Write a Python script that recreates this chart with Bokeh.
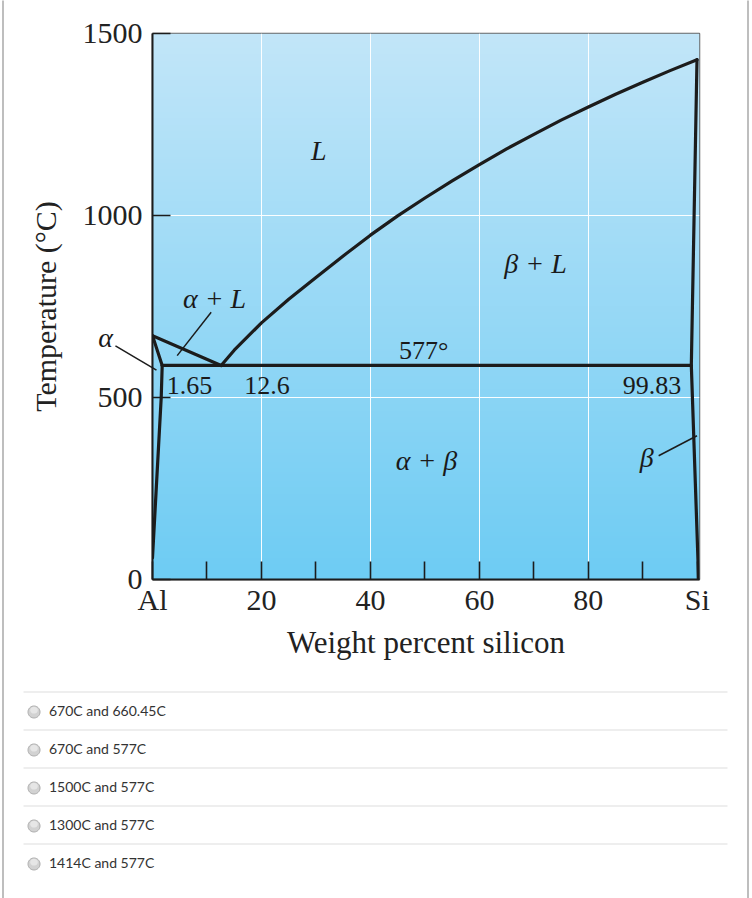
import numpy as np
from bokeh.plotting import figure
from bokeh.models import Range1d, FixedTicker
from bokeh.embed import file_html
from bokeh.resources import INLINE
from bokeh.core.properties import value

# ---------------- data (wt% Si, temperature in deg C) ----------------
liq_left_x = [0.0, 12.6]
liq_left_t = [670, 588]
sol_alpha_x = [0.0, 1.78]
sol_alpha_t = [670, 588]
solvus_alpha_x = [1.78, 1.6, 0.0]
solvus_alpha_t = [588, 500, 60]
liq_right_x = [12.6, 15, 20, 25, 30, 35, 40, 45, 50, 55, 60, 65, 70, 75, 80,
               85, 90, 95, 99.94]
liq_right_t = [588, 630, 705, 770, 830, 889, 946, 999, 1048, 1095, 1140, 1183,
               1223, 1262, 1298, 1333, 1366, 1398, 1428]
eutectic_x = [1.78, 98.9]
eutectic_t = [588, 588]
beta_x = [99.94, 98.9, 100.24]
beta_t = [1428, 588, 0]

x_ticks = [0, 10, 20, 30, 40, 50, 60, 70, 80, 90, 100]
x_tick_labels = {0: "Al", 10: "", 20: "20", 30: "", 40: "40", 50: "", 60: "60",
                 70: "", 80: "80", 90: "", 100: "Si"}
y_ticks = [0, 500, 1000, 1500]

italic_labels = ["L", "β + L", "α + L", "α + β", "β"]
italic_x = [30.5, 70.3, 11.4, 50.3, 90.7]
italic_t = [1179, 867, 771, 326, 335]

plain_labels = ["577°", "1.65", "12.6", "99.83"]
plain_x = [49.8, 6.79, 21.0, 91.7]
plain_t = [629, 532, 532, 532]

alpha_label = ["α"]
alpha_label_x = [-8.6]
alpha_label_t = [665]

leaders_x0 = [-6.8, 10.77, 92.9]
leaders_t0 = [642, 734, 340]
leaders_x1 = [0.73, 4.53, 99.94]
leaders_t1 = [575, 615, 395]

options = ["670C and 660.45C", "670C and 577C", "1500C and 577C",
           "1300C and 577C", "1414C and 577C"]

SERIF = "Liberation Serif"
INK = "#1c1c1c"

# ---------------- figure ----------------
p = figure(width=752, height=898, output_backend="svg", toolbar_location=None,
           x_range=Range1d(0, 100.4), y_range=Range1d(0, 1500),
           min_border_left=152, min_border_right=53, min_border_top=33,
           min_border_bottom=319)
p.background_fill_color = None
p.border_fill_color = "white"
p.outline_line_color = "#666666"
p.outline_line_width = 1.5

# page-pixel ranges for the decorations around the chart
p.extra_x_ranges = {"px": Range1d(152, 699)}
p.extra_y_ranges = {"py": Range1d(579, 33)}

# background vertical gradient (styling only)
N = 256
img = np.zeros((N, 1), dtype=np.uint32)
view = img.view(dtype=np.uint8).reshape((N, 1, 4))
top_c = np.array([194, 230, 249])
bot_c = np.array([110, 204, 243])
for i in range(N):
    f = i / (N - 1)
    view[i, 0, :3] = (bot_c + (top_c - bot_c) * f).astype(np.uint8)
    view[i, 0, 3] = 255
p.image_rgba(image=[img], x=0, y=0, dw=100.4, dh=1500, level="image")

p.xgrid.ticker = FixedTicker(ticks=[20, 40, 60, 80])
p.ygrid.ticker = FixedTicker(ticks=[500, 1000])
for g in (p.xgrid, p.ygrid):
    g.grid_line_color = "white"
    g.grid_line_width = 1
    g.grid_line_alpha = 0.95
    g.level = "underlay"

# axes
p.xaxis.ticker = FixedTicker(ticks=x_ticks)
p.xaxis.major_label_overrides = x_tick_labels
p.yaxis.ticker = FixedTicker(ticks=y_ticks)
for ax in (p.xaxis, p.yaxis):
    ax.major_tick_in = 18
    ax.major_tick_out = 0
    ax.minor_tick_in = 0
    ax.minor_tick_out = 0
    ax.major_tick_line_color = INK
    ax.major_tick_line_width = 1.6
    ax.axis_line_color = INK
    ax.axis_line_width = 2
    ax.major_label_text_font = SERIF
    ax.major_label_text_font_size = "30px"
    ax.major_label_text_color = "#222222"
    ax.axis_label_text_font = SERIF
    ax.axis_label_text_font_size = "30px"
    ax.axis_label_text_font_style = "normal"
    ax.axis_label_text_color = "#222222"
p.xaxis.axis_label = "Weight percent silicon"
p.xaxis.axis_label_text_font_size = "31px"
p.yaxis.axis_label = "Temperature (°C)"
p.xaxis.major_label_standoff = 3
p.yaxis.major_label_standoff = 10
p.xaxis.axis_label_standoff = 6
p.yaxis.axis_label_standoff = 18
p.yaxis.major_label_orientation = "horizontal"

# phase boundaries
for xs, ts in [(liq_left_x, liq_left_t), (sol_alpha_x, sol_alpha_t),
               (solvus_alpha_x, solvus_alpha_t), (liq_right_x, liq_right_t),
               (eutectic_x, eutectic_t), (beta_x, beta_t)]:
    p.line(xs, ts, line_color=INK, line_width=3.2, line_join="round", line_cap="round")

# leader lines (overlay level so that the alpha leader can leave the frame)
p.segment(x0=leaders_x0, y0=leaders_t0, x1=leaders_x1, y1=leaders_t1,
          line_color=INK, line_width=1.5, level="overlay")

# labels
p.text(x=italic_x, y=italic_t, text=italic_labels, text_font=value(SERIF),
       text_font_style="italic", text_font_size="28px", text_align="center",
       text_baseline="middle", text_color="#1a1a1a")
p.text(x=plain_x, y=plain_t, text=plain_labels, text_font=value(SERIF),
       text_font_size="26px", text_align="center", text_baseline="middle",
       text_color="#1a1a1a")
p.text(x=alpha_label_x, y=alpha_label_t, text=alpha_label, text_font=value(SERIF),
       text_font_style="italic", text_font_size="28px", text_align="center",
       text_baseline="middle", text_color="#1a1a1a", level="overlay")

# ---------------- answer options (page-pixel coordinates) ----------------
row_y = [710 + 38 * i for i in range(len(options))]
sep_y = [y - 18.5 for y in row_y]
p.segment(x0=23, x1=727, y0=sep_y, y1=sep_y, line_color="#dddddd", line_width=1.2,
          x_range_name="px", y_range_name="py", level="overlay")

# radio buttons drawn as round patches (NaN-separated)
ang = np.linspace(0, 2 * np.pi, 40)
cx, cy = [], []
hx, hy = [], []
for y in row_y:
    cx += list(33.5 + 6.0 * np.cos(ang)) + [np.nan]
    cy += list(y + 1.5 + 6.0 * np.sin(ang)) + [np.nan]
    hx += list(33.5 + 3.8 * np.cos(ang)) + [np.nan]
    hy += list(y - 0.3 + 3.4 * np.sin(ang)) + [np.nan]
p.patch(cx[:-1], cy[:-1], fill_color="#d2d2d2", line_color="#ababab", line_width=1,
        x_range_name="px", y_range_name="py", level="overlay")
p.patch(hx[:-1], hy[:-1], fill_color="#e6e6e6", line_color=None,
        x_range_name="px", y_range_name="py", level="overlay")
p.text(x=48.5, y=row_y, text=options, text_font=value("Lato"), text_font_size="14px",
       text_baseline="middle", text_color="#333333",
       x_range_name="px", y_range_name="py", level="overlay")
# page frame lines
p.segment(x0=[2.5, 747.5], x1=[2.5, 747.5], y0=0, y1=898, line_color="#a8a8a8",
          line_width=1.5, x_range_name="px", y_range_name="py", level="overlay")

open("out.html", "w").write(file_html(p, INLINE))
